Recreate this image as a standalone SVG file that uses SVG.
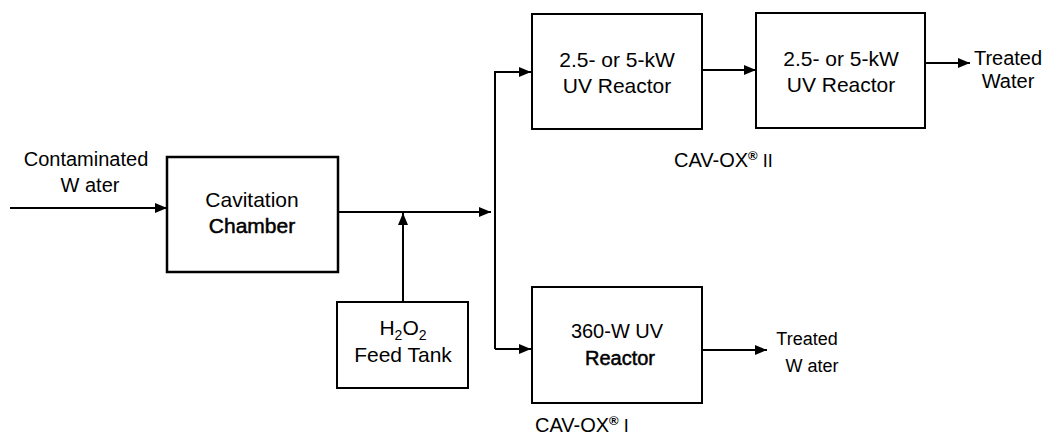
<svg xmlns="http://www.w3.org/2000/svg" width="1058" height="438" viewBox="0 0 1058 438">
<defs>
<marker id="ah" markerUnits="userSpaceOnUse" markerWidth="12" markerHeight="10" refX="12" refY="5" orient="auto">
<path d="M0,0 L12,5 L0,10 Z" fill="#000"/>
</marker>
</defs>
<style>
.box{fill:#fff;stroke:#000;stroke-width:2}
.ln{fill:none;stroke:#000;stroke-width:2}
text{font-family:"Liberation Sans",Arial,sans-serif;fill:#000}
.t{font-size:21px;text-anchor:middle}
.l{font-size:20px;text-anchor:middle}
.s{font-size:18px;text-anchor:middle}
.semi{stroke:#000;stroke-width:0.5}
</style>
<rect width="1058" height="438" fill="#fff"/>
<g id="connectors">
<line class="ln" x1="10" y1="208" x2="167" y2="208" marker-end="url(#ah)"/>
<line class="ln" x1="338" y1="212" x2="491" y2="212" marker-end="url(#ah)"/>
<line class="ln" x1="403" y1="302" x2="403" y2="213" marker-end="url(#ah)"/>
<polyline class="ln" points="495,349 495,72 531,72" marker-end="url(#ah)"/>
<line class="ln" x1="495" y1="349" x2="531" y2="349" marker-end="url(#ah)"/>
<line class="ln" x1="702" y1="70" x2="756" y2="70" marker-end="url(#ah)"/>
<line class="ln" x1="925" y1="63" x2="970" y2="63" marker-end="url(#ah)"/>
<line class="ln" x1="702" y1="350" x2="767" y2="350" marker-end="url(#ah)"/>
</g>
<g id="label-contaminated">
<text class="l" x="86" y="166">Contaminated</text>
<text class="l" x="90" y="192">W ater</text>
</g>
<g id="cavitation">
<rect class="box" x="167" y="157" width="171" height="115" style="stroke-width:2.5"/>
<text class="t" x="252" y="207">Cavitation</text>
<text class="t semi" x="252" y="233">Chamber</text>
</g>
<g id="h2o2">
<rect class="box" x="337" y="302" width="131" height="86"/>
<text class="t" x="403" y="335">H<tspan font-size="14" dy="5">2</tspan><tspan dy="-5">O</tspan><tspan font-size="14" dy="5">2</tspan></text>
<text class="t" x="403" y="362">Feed Tank</text>
</g>
<g id="uv1">
<rect class="box" x="532" y="14" width="170" height="115"/>
<text class="t" x="617" y="67">2.5- or 5-kW</text>
<text class="t" x="617" y="93">UV Reactor</text>
</g>
<g id="uv2">
<rect class="box" x="756" y="13" width="169" height="115"/>
<text class="t" x="841" y="66">2.5- or 5-kW</text>
<text class="t" x="841" y="92">UV Reactor</text>
</g>
<g id="label-treated-top">
<text class="l" x="1008" y="65">Treated</text>
<text class="l" x="1008" y="88">Water</text>
</g>
<g id="label-cavox2">
<text x="674" y="167" font-size="20">CAV-OX<tspan font-size="13" dy="-7" font-weight="bold">®</tspan><tspan dy="7" font-size="18"> II</tspan></text>
</g>
<g id="uv360">
<rect class="box" x="532" y="287" width="170" height="116"/>
<text class="t" x="617" y="338" style="font-size:20px">360-W UV</text>
<text class="t semi" x="620" y="365" style="font-size:20px">Reactor</text>
</g>
<g id="label-treated-bottom">
<text class="s" x="807" y="345">Treated</text>
<text class="s" x="812" y="372">W ater</text>
</g>
<g id="label-cavox1">
<text x="535" y="432" font-size="20">CAV-OX<tspan font-size="13" dy="-7" font-weight="bold">®</tspan><tspan dy="7" font-size="18"> I</tspan></text>
</g>
</svg>
